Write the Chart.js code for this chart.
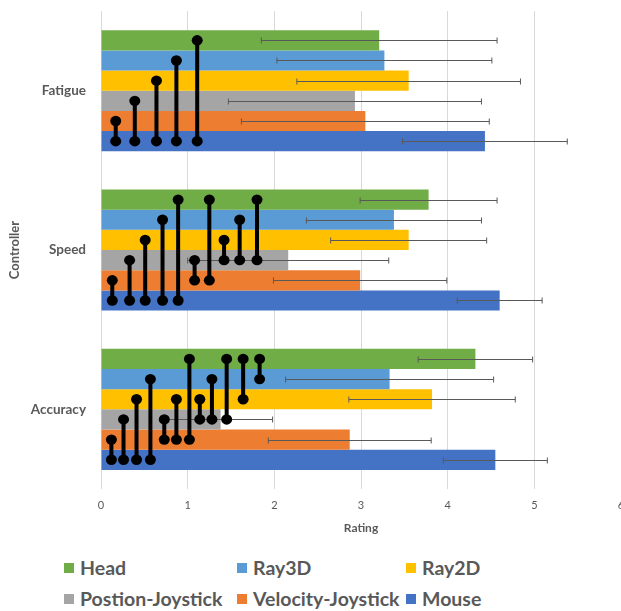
<!DOCTYPE html>
<html>
<head>
<meta charset="utf-8">
<script src="https://cdn.jsdelivr.net/npm/chart.js@4.4.1/dist/chart.umd.min.js"></script>
<style>
    html, body { margin: 0; padding: 0; background: #fff; overflow: hidden; }
    body { width: 621px; height: 611px; position: relative; font-family: Lato, 'Open Sans', sans-serif; }
    #caixa { position: absolute; left: 0; top: 0; width: 640px; height: 545px; }
    #legenda {
        position: absolute; left: 64px; top: 557px;
        display: grid; grid-template-columns: 173px 169px auto; row-gap: 9px;
        color: #595959; font-size: 19.5px; font-weight: 700; line-height: 22px;
    }
    .item { display: flex; align-items: center; white-space: nowrap; }
    .quadrado { width: 10px; height: 10px; margin-right: 6px; }
</style>
</head>
<body>
<div id="caixa"><canvas id="grafico" width="640" height="545"></canvas></div>
<div id="legenda"></div>
<script>
// Categorias e séries
const categorias = ['Fatigue', 'Speed', 'Accuracy'];
const series = ['Head', 'Ray3D', 'Ray2D', 'Postion-Joystick', 'Velocity-Joystick', 'Mouse'];
const cores = ['#70ad47', '#5b9bd5', '#ffc000', '#a5a5a5', '#ed7d31', '#4472c4'];

// Médias (Rating)
const valHead = [3.21, 3.78, 4.32];
const valRay3D = [3.27, 3.38, 3.33];
const valRay2D = [3.55, 3.55, 3.82];
const valPosJoy = [2.93, 2.16, 1.38];
const valVelJoy = [3.05, 2.99, 2.87];
const valMouse = [4.43, 4.60, 4.55];

// Desvio (barra de erro +/-)
const errHead = [1.36, 0.79, 0.66];
const errRay3D = [1.24, 1.01, 1.20];
const errRay2D = [1.29, 0.90, 0.96];
const errPosJoy = [1.46, 1.16, 0.60];
const errVelJoy = [1.43, 1.00, 0.94];
const errMouse = [0.95, 0.49, 0.60];

const ticksRating = [0, 1, 2, 3, 4, 5, 6];

// Diferenças significativas: [rating no eixo x, série de cima, série de baixo]
const sigFatigue = [[0.17, 4, 5], [0.39, 3, 5], [0.64, 2, 5], [0.87, 1, 5], [1.11, 0, 5]];
const sigSpeed = [[0.13, 4, 5], [0.33, 3, 5], [0.51, 2, 5], [0.71, 1, 5], [0.89, 0, 5],
    [1.08, 3, 4], [1.25, 0, 4], [1.42, 2, 3], [1.60, 1, 3], [1.80, 0, 3]];
const sigAccuracy = [[0.12, 4, 5], [0.26, 3, 5], [0.41, 2, 5], [0.57, 1, 5], [0.73, 3, 4],
    [0.87, 2, 4], [1.02, 0, 4], [1.14, 2, 3], [1.28, 1, 3], [1.45, 0, 3], [1.64, 0, 2], [1.83, 0, 1]];

const valores = [valHead, valRay3D, valRay2D, valPosJoy, valVelJoy, valMouse];
const erros = [errHead, errRay3D, errRay2D, errPosJoy, errVelJoy, errMouse];
const sigs = [sigFatigue, sigSpeed, sigAccuracy];

const corTexto = '#595959';
const fonte = 'Lato, "Open Sans", sans-serif';

// Barras de erro
const pluginErros = {
    id: 'barrasErro',
    afterDatasetsDraw(chart) {
        const ctx = chart.ctx;
        const x = chart.scales.x;
        ctx.save();
        ctx.strokeStyle = '#595959';
        ctx.lineWidth = 1;
        chart.data.datasets.forEach((ds, i) => {
            const meta = chart.getDatasetMeta(i);
            meta.data.forEach((barra, j) => {
                const x1 = x.getPixelForValue(ds.data[j] - erros[i][j]);
                const x2 = x.getPixelForValue(ds.data[j] + erros[i][j]);
                const y = Math.round(barra.y) + 0.5;
                ctx.beginPath();
                ctx.moveTo(x1, y); ctx.lineTo(x2, y);
                ctx.moveTo(x1, y - 3); ctx.lineTo(x1, y + 3);
                ctx.moveTo(x2, y - 3); ctx.lineTo(x2, y + 3);
                ctx.stroke();
            });
        });
        ctx.restore();
    }
};

// Marcadores de significância (linha preta com bolinhas)
const pluginSig = {
    id: 'significancia',
    afterDraw(chart) {
        const ctx = chart.ctx;
        const x = chart.scales.x;
        ctx.save();
        ctx.strokeStyle = '#000';
        ctx.fillStyle = '#000';
        ctx.lineWidth = 4;
        sigs.forEach((lista, j) => {
            lista.forEach(([xv, a, b]) => {
                const px = x.getPixelForValue(xv);
                const ya = chart.getDatasetMeta(a).data[j].y;
                const yb = chart.getDatasetMeta(b).data[j].y;
                ctx.beginPath();
                ctx.moveTo(px, ya); ctx.lineTo(px, yb);
                ctx.stroke();
                [ya, yb].forEach(yy => {
                    ctx.beginPath();
                    ctx.ellipse(px, yy, 5.5, 5.2, 0, 0, Math.PI * 2);
                    ctx.fill();
                });
            });
        });
        ctx.restore();
    }
};

const ctx = document.getElementById('grafico').getContext('2d');
new Chart(ctx, {
    type: 'bar',
    data: {
        labels: categorias,
        datasets: series.map((nome, i) => ({
            label: nome,
            data: valores[i],
            backgroundColor: cores[i],
            borderWidth: 0,
            barPercentage: 1,
            categoryPercentage: 0.76
        }))
    },
    options: {
        indexAxis: 'y',
        responsive: false,
        animation: false,
        layout: { padding: { top: 0, right: 19, bottom: 0, left: 0 } },
        plugins: {
            legend: { display: false },
            tooltip: { enabled: false }
        },
        scales: {
            x: {
                min: 0,
                max: 6,
                afterBuildTicks: s => { s.ticks = ticksRating.map(v => ({ value: v })); },
                afterFit: s => { s.height = 56; },
                ticks: { color: corTexto, font: { family: fonte, size: 11 }, padding: 10 },
                grid: { color: '#d9d9d9', drawTicks: false },
                border: { display: false },
                title: {
                    display: true, text: 'Rating', color: corTexto,
                    font: { family: fonte, size: 12, weight: 'bold' },
                    padding: { top: 4, bottom: 10 }
                }
            },
            y: {
                afterFit: s => { s.width = 101; },
                ticks: { color: corTexto, font: { family: fonte, size: 13.5, weight: 'bold' }, padding: 3 },
                // sem linhas; o tickLength só afasta os rótulos do eixo
                grid: { display: false, drawTicks: true, tickLength: 12 },
                border: { display: false },
                title: {
                    display: true, text: 'Controller', color: corTexto,
                    font: { family: fonte, size: 13, weight: 'bold' },
                    padding: { top: 7, bottom: 4 }
                }
            }
        }
    },
    plugins: [pluginErros, pluginSig]
});

// Legenda em HTML (3 colunas, como no original)
const legenda = document.getElementById('legenda');
series.forEach((nome, i) => {
    const item = document.createElement('div');
    item.className = 'item';
    const q = document.createElement('span');
    q.className = 'quadrado';
    q.style.background = cores[i];
    item.appendChild(q);
    item.appendChild(document.createTextNode(nome));
    legenda.appendChild(item);
});
</script>
</body>
</html>
